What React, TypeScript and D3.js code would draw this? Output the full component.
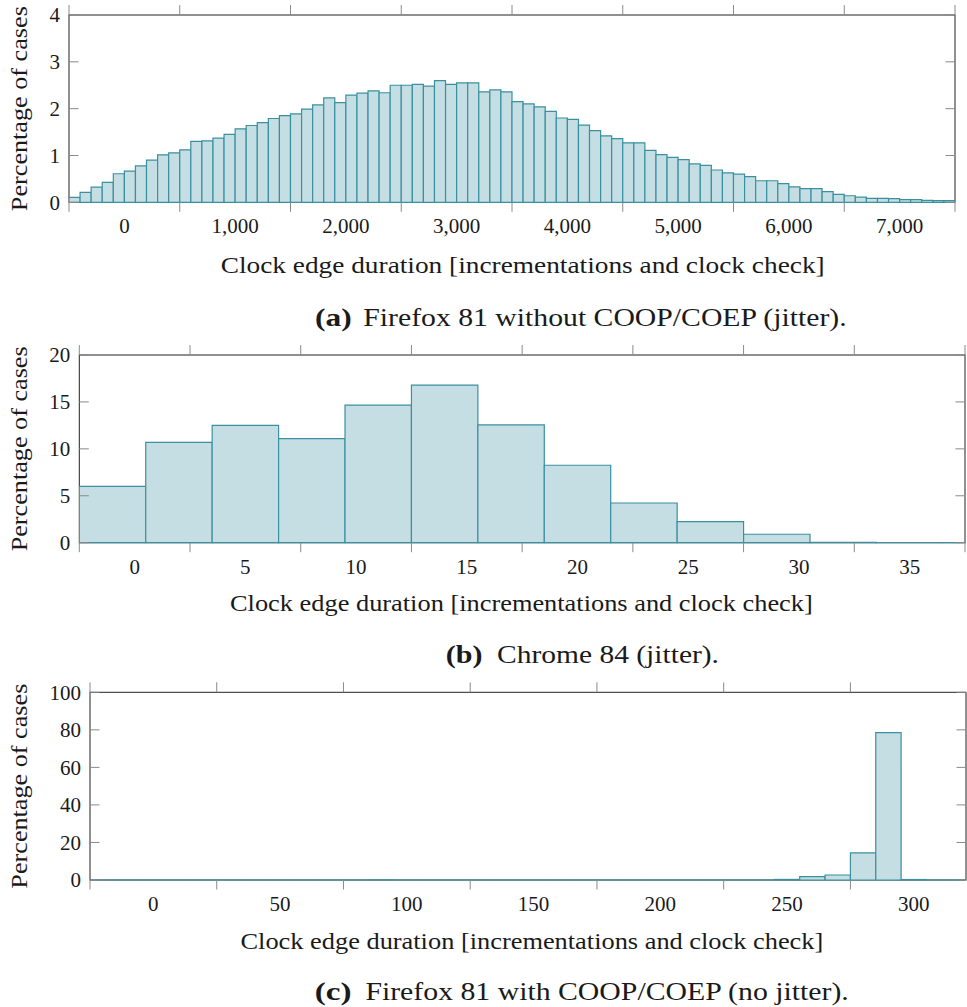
import * as d3 from "d3";

// (a) Firefox 81 without COOP/COEP (jitter): bins of 100 starting at -500
const ffJitterValues = [
  0.106, 0.213, 0.326, 0.426, 0.61, 0.667, 0.78, 0.9, 1.014, 1.057, 1.12, 1.3, 1.31, 1.37,
  1.45, 1.57, 1.64, 1.7, 1.79, 1.85, 1.89, 1.99, 2.08, 2.23, 2.13, 2.29, 2.33, 2.38,
  2.34, 2.5, 2.5, 2.52, 2.48, 2.6, 2.52, 2.55, 2.55, 2.36, 2.4, 2.36, 2.15, 2.1, 2.04, 1.94,
  1.8, 1.77, 1.65, 1.53, 1.42, 1.36, 1.27, 1.27, 1.11, 1.02, 0.96,
  0.91, 0.82, 0.79, 0.69, 0.63, 0.6, 0.55, 0.46, 0.46, 0.4, 0.33, 0.29, 0.29, 0.23, 0.17,
  0.14, 0.11, 0.085, 0.085, 0.078, 0.057, 0.057, 0.043, 0.035, 0.035,
];
const ffJitterBinStart = -500;
const ffJitterBinWidth = 100;
const ffJitterXLabels = [0, 1000, 2000, 3000, 4000, 5000, 6000, 7000];
const ffJitterYTicks = [0, 1, 2, 3, 4];

// (b) Chrome 84 (jitter): bins of 3 starting at -2.5
const chromeValues = [6.0, 10.7, 12.5, 11.1, 14.65, 16.8, 12.55, 8.25, 4.23, 2.24, 0.9, 0.05, 0.02, 0];
const chromeBinStart = -2.5;
const chromeBinWidth = 3;
const chromeXLabels = [0, 5, 10, 15, 20, 25, 30, 35];
const chromeYTicks = [0, 5, 10, 15, 20];

// (c) Firefox 81 with COOP/COEP (no jitter): bins of 10 starting at -25
const ffNoJitterValues = [
  0, 0, 0, 0, 0, 0, 0, 0, 0, 0, 0, 0.1, 0, 0, 0, 0, 0, 0, 0, 0, 0, 0, 0, 0, 0, 0, 0,
  0.3, 1.8, 2.66, 14.5, 78.5, 0.25, 0, 0,
];
const ffNoJitterBinStart = -25;
const ffNoJitterBinWidth = 10;
const ffNoJitterXLabels = [0, 50, 100, 150, 200, 250, 300];
const ffNoJitterYTicks = [0, 20, 40, 60, 80, 100];

const xTitle = "Clock edge duration [incrementations and clock check]";
const yTitle = "Percentage of cases";

const FONT = "Liberation Serif, Times New Roman, serif";
const FILL = "#c5dee3";
const STROKE = "#3b90a0";
const TICK = "#8a8a8a";

type Panel = {
  id: string;
  values: number[];
  binStart: number;
  binWidth: number;
  xLabels: number[];
  yTicks: number[];
  fmt: (v: number) => string;
  xDomain: [number, number];
  left: number;
  right: number;
  top: number;
  bottom: number;
  xTitleX: number;
  xTitleLen: number;
  xTitleY: number;
  tag: string;
  caption: string;
  capY: number;
  tagX: number;
  capX: number;
  capLen: number;
};

const panels: Panel[] = [
  {
    id: "a", values: ffJitterValues, binStart: ffJitterBinStart, binWidth: ffJitterBinWidth,
    xLabels: ffJitterXLabels, yTicks: ffJitterYTicks, fmt: d3.format(","),
    xDomain: [-500, 7500], left: 69, right: 955, top: 15, bottom: 202.3,
    xTitleX: 220.7, xTitleLen: 604, xTitleY: 273,
    tag: "(a)", caption: "Firefox 81 without COOP/COEP (jitter).", capY: 326,
    tagX: 315, capX: 363.3, capLen: 483.4,
  },
  {
    id: "b", values: chromeValues, binStart: chromeBinStart, binWidth: chromeBinWidth,
    xLabels: chromeXLabels, yTicks: chromeYTicks, fmt: d3.format("d"),
    xDomain: [-2.5, 37.5], left: 79.3, right: 965, top: 355, bottom: 542.7,
    xTitleX: 230, xTitleLen: 582.8, xTitleY: 610.7,
    tag: "(b)", caption: "Chrome 84 (jitter).", capY: 662.7,
    tagX: 445.7, capX: 497, capLen: 222,
  },
  {
    id: "c", values: ffNoJitterValues, binStart: ffNoJitterBinStart, binWidth: ffNoJitterBinWidth,
    xLabels: ffNoJitterXLabels, yTicks: ffNoJitterYTicks, fmt: d3.format("d"),
    xDomain: [-25, 320.6], left: 90, right: 966, top: 692.3, bottom: 880,
    xTitleX: 240.5, xTitleLen: 582.8, xTitleY: 949,
    tag: "(c)", caption: "Firefox 81 with COOP/COEP (no jitter).", capY: 1000,
    tagX: 314.8, capX: 365.4, capLen: 483.4,
  },
];

function Histogram({ p }: { p: Panel }) {
  const yMax = p.yTicks[p.yTicks.length - 1];
  const x = d3.scaleLinear().domain(p.xDomain).range([p.left, p.right]);
  const y = d3.scaleLinear().domain([0, yMax]).range([p.bottom, p.top]);
  const step = p.xLabels[1] - p.xLabels[0];
  const ticks = [p.xLabels[0] - step / 2, ...p.xLabels.map((v) => v + step / 2)].filter(
    (t) => t >= p.xDomain[0] - 1e-9 && t <= p.xDomain[1] + 1e-9
  );
  const clipId = `clip-${p.id}`;
  const cy = (p.top + p.bottom) / 2;

  return (
    <g>
      <defs>
        <clipPath id={clipId}>
          <rect x={p.left} y={p.top - 2} width={p.right - p.left} height={p.bottom - p.top + 4} />
        </clipPath>
      </defs>
      <rect x={p.left} y={p.top} width={p.right - p.left} height={p.bottom - p.top} fill="none" stroke="#222" strokeWidth={1} />
      <g clipPath={`url(#${clipId})`}>
        {p.values.map((v, i) => {
          const x0 = x(p.binStart + i * p.binWidth);
          const x1 = x(p.binStart + (i + 1) * p.binWidth);
          const y0 = y(0);
          const y1 = y(v);
          return (
            <path key={i} d={`M${x0},${y0}V${y1}H${x1}V${y0}Z`} fill={FILL} stroke={STROKE} strokeWidth={1.2} />
          );
        })}
      </g>
      {ticks.map((t, i) => (
        <g key={`xt${i}`} stroke={TICK} strokeWidth={1}>
          <line x1={x(t)} x2={x(t)} y1={p.bottom} y2={p.bottom + 9.5} />
          <line x1={x(t)} x2={x(t)} y1={p.top} y2={p.top - 10} />
        </g>
      ))}
      {p.yTicks.map((t, i) => (
        <g key={`yt${i}`} stroke={TICK} strokeWidth={1}>
          <line x1={p.left} x2={p.left + 9.5} y1={y(t)} y2={y(t)} />
          <line x1={p.right} x2={p.right - 9.5} y1={y(t)} y2={y(t)} />
        </g>
      ))}
      <g style={{ fontFamily: FONT }} fontSize={21} fill="#1a1a1a">
        {p.xLabels.map((v, i) => (
          <text key={`xl${i}`} x={x(v)} y={p.bottom + 31} textAnchor="middle">
            {p.fmt(v)}
          </text>
        ))}
        {p.yTicks.map((t, i) => (
          <text key={`yl${i}`} x={p.left - 9} y={y(t)} dy="0.35em" textAnchor="end">
            {t}
          </text>
        ))}
      </g>
      <g style={{ fontFamily: FONT }} fill="#1a1a1a">
        <text x={p.xTitleX} y={p.xTitleY} fontSize={24} textLength={p.xTitleLen} lengthAdjust="spacingAndGlyphs">
          {xTitle}
        </text>
        <text transform={`translate(27,${cy}) rotate(-90)`} textAnchor="middle" fontSize={22.5} textLength={205} lengthAdjust="spacingAndGlyphs">
          {yTitle}
        </text>
        <text x={p.tagX} y={p.capY} fontSize={25} fontWeight="bold" textLength={36.7} lengthAdjust="spacingAndGlyphs">
          {p.tag}
        </text>
        <text x={p.capX} y={p.capY} fontSize={25} textLength={p.capLen} lengthAdjust="spacingAndGlyphs">
          {p.caption}
        </text>
      </g>
    </g>
  );
}

export default function App() {
  return (
    <svg width={967} height={1007} style={{ position: "absolute", left: 0, top: 0, background: "#fff" }}>
      {panels.map((p) => (
        <Histogram key={p.id} p={p} />
      ))}
    </svg>
  );
}
